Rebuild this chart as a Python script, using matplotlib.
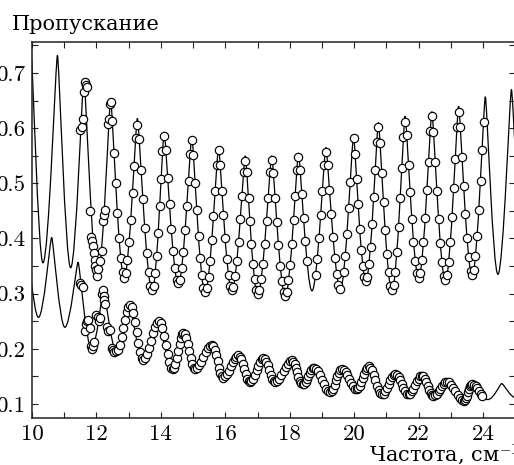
import matplotlib
matplotlib.use("Agg")
import matplotlib.pyplot as plt
from matplotlib.path import Path
from matplotlib.patches import PathPatch

# ---------------------------------------------------------------- data
# Fitted transmission curves: successive extrema (frequency, transmission)
upper_fit_x = [9.97, 10.34, 10.79, 11.20, 11.61, 12.04, 12.44, 12.86, 13.27, 13.73,
               14.10, 14.54, 14.96, 15.37, 15.79, 16.20, 16.62, 17.00, 17.44, 17.86,
               18.27, 18.69, 19.12, 19.57, 19.98, 20.36, 20.75, 21.17, 21.58, 22.00,
               22.41, 22.83, 23.24, 23.66, 24.07, 24.46, 24.88, 25.30]
upper_fit_y = [0.740, 0.356, 0.732, 0.347, 0.690, 0.332, 0.652, 0.329, 0.618, 0.305,
               0.593, 0.317, 0.585, 0.302, 0.565, 0.305, 0.550, 0.298, 0.550, 0.295,
               0.555, 0.305, 0.565, 0.308, 0.586, 0.322, 0.610, 0.305, 0.622, 0.328,
               0.630, 0.323, 0.640, 0.332, 0.657, 0.335, 0.670, 0.340]

lower_fit_x = [9.80, 10.20, 10.61, 11.02, 11.43, 11.85, 12.22, 12.62, 13.04, 13.45,
               13.94, 14.37, 14.70, 15.06, 15.58, 15.94, 16.40, 16.76, 17.18, 17.55,
               18.06, 18.40, 18.75, 19.25, 19.62, 20.08, 20.45, 20.86, 21.27, 21.69,
               22.10, 22.46, 22.88, 23.40, 23.66, 24.15, 24.58, 25.05]
lower_fit_y = [0.410, 0.257, 0.402, 0.239, 0.357, 0.200, 0.308, 0.195, 0.279, 0.180,
               0.250, 0.163, 0.228, 0.164, 0.207, 0.148, 0.188, 0.139, 0.183, 0.140,
               0.179, 0.136, 0.166, 0.122, 0.163, 0.127, 0.168, 0.118, 0.154, 0.118,
               0.151, 0.115, 0.140, 0.106, 0.136, 0.108, 0.137, 0.110]

# Measured points (frequency, transmission)
upper_points = [
    (11.49, .596), (11.54, .602), (11.59, .616),
    (11.62, .666), (11.65, .684), (11.69, .679), (11.72, .675), (11.80, .449),
    (11.82, .402), (11.85, .396), (11.88, .387), (11.91, .373), (11.94, .361),
    (11.97, .350), (12.00, .343), (12.02, .332),
    (12.06, .345), (12.10, .360), (12.16, .378), (12.19, .432), (12.23, .442),
    (12.26, .452), (12.36, .608), (12.39, .616), (12.42, .643),
    (12.45, .648), (12.49, .613), (12.55, .555), (12.60, .500), (12.65, .447),
    (12.70, .400), (12.76, .365), (12.81, .339),
    (12.86, .329), (12.91, .338), (12.96, .361), (13.01, .393), (13.07, .434),
    (13.12, .482), (13.17, .531), (13.22, .583),
    (13.27, .606), (13.33, .580), (13.39, .524), (13.44, .471), (13.50, .419),
    (13.56, .374), (13.62, .339), (13.67, .314),
    (13.73, .307), (13.78, .314), (13.82, .337), (13.87, .368), (13.92, .410),
    (13.96, .458), (14.01, .507), (14.05, .558),
    (14.10, .585), (14.16, .560), (14.21, .510), (14.27, .463), (14.32, .418),
    (14.38, .378), (14.43, .347), (14.49, .325),
    (14.54, .320), (14.59, .325), (14.65, .346), (14.70, .376), (14.75, .415),
    (14.80, .459), (14.86, .505), (14.91, .553),
    (14.96, .578), (15.01, .551), (15.06, .500), (15.11, .452), (15.17, .405),
    (15.22, .364), (15.27, .333), (15.32, .310),
    (15.37, .303), (15.42, .310), (15.48, .331), (15.53, .360), (15.58, .398),
    (15.63, .441), (15.69, .486), (15.74, .533),
    (15.79, .560), (15.84, .534), (15.89, .487), (15.94, .443), (16.00, .400),
    (16.05, .362), (16.10, .334), (16.15, .313),
    (16.20, .306), (16.25, .312), (16.31, .332), (16.36, .359), (16.41, .394),
    (16.46, .435), (16.52, .477), (16.57, .521),
    (16.62, .540), (16.67, .520), (16.72, .474), (16.76, .432), (16.81, .390),
    (16.86, .353), (16.91, .326), (16.95, .306),
    (17.00, .299), (17.06, .306), (17.11, .326), (17.17, .353), (17.22, .390),
    (17.28, .432), (17.33, .474), (17.39, .520),
    (17.44, .543), (17.49, .519), (17.55, .474), (17.60, .430), (17.65, .388),
    (17.70, .351), (17.76, .323), (17.81, .303),
    (17.86, .296), (17.91, .303), (17.96, .324), (18.01, .352), (18.07, .390),
    (18.12, .433), (18.17, .477), (18.22, .524),
    (18.27, .548), (18.32, .525), (18.38, .480), (18.43, .438), (18.48, .396),
    (18.53, .360),
    (18.80, .334), (18.85, .362), (18.91, .400), (18.96, .443), (19.01, .487),
    (19.07, .534),
    (19.12, .557), (19.18, .534), (19.23, .488), (19.29, .444), (19.35, .402),
    (19.40, .365), (19.46, .336), (19.51, .316),
    (19.57, .309), (19.67, .339), (19.72, .369), (19.78, .409), (19.83, .455),
    (19.88, .503), (19.99, .582),
    (20.03, .554), (20.08, .507), (20.12, .462), (20.17, .418), (20.22, .380),
    (20.27, .351), (20.31, .330),
    (20.36, .323), (20.41, .331), (20.46, .354), (20.51, .385), (20.56, .427),
    (20.60, .475), (20.65, .524), (20.70, .575),
    (20.75, .603), (20.80, .573), (20.86, .519), (20.91, .467), (20.96, .416),
    (21.01, .372), (21.07, .339), (21.12, .314),
    (21.17, .306), (21.22, .315), (21.27, .340), (21.32, .375), (21.38, .421),
    (21.43, .473), (21.48, .527), (21.53, .584),
    (21.58, .612), (21.63, .587), (21.69, .534), (21.74, .484), (21.79, .435),
    (21.84, .393), (21.90, .360), (21.95, .337),
    (22.00, .329), (22.05, .337), (22.10, .361), (22.15, .394), (22.21, .438),
    (22.26, .488), (22.31, .539), (22.36, .594),
    (22.41, .622), (22.46, .593), (22.52, .538), (22.57, .486), (22.62, .435),
    (22.67, .391), (22.73, .357), (22.78, .332),
    (22.83, .324), (22.88, .333), (22.93, .358), (22.98, .393), (23.04, .439),
    (23.09, .491), (23.14, .545), (23.19, .602),
    (23.24, .630), (23.29, .603), (23.35, .548), (23.40, .495), (23.45, .444),
    (23.50, .400), (23.56, .366), (23.61, .341),
    (23.66, .333), (23.71, .342), (23.76, .368), (23.81, .404), (23.87, .451),
    (23.92, .504), (23.97, .560), (24.02, .612),
]

lower_points = [
    (11.49, .319), (11.52, .316), (11.57, .312), (11.65, .233), (11.68, .245),
    (11.72, .250), (11.75, .252), (11.80, .238), (11.82, .205), (11.85, .200),
    (11.88, .206), (11.92, .212), (12.00, .262), (12.04, .258), (12.08, .250),
    (12.11, .256), (12.16, .300), (12.19, .306), (12.22, .296), (12.25, .288),
    (12.28, .282), (12.33, .240), (12.37, .233), (12.41, .235), (12.47, .202),
    (12.52, .198), (12.56, .195), (12.60, .196),
    (12.67, .198), (12.73, .207), (12.78, .221), (12.83, .237), (12.88, .253),
    (12.94, .267), (12.99, .276),
    (13.04, .279), (13.09, .275), (13.14, .265), (13.19, .248), (13.25, .230),
    (13.30, .211), (13.35, .194), (13.40, .184),
    (13.45, .180), (13.51, .183), (13.57, .190), (13.63, .202), (13.70, .215),
    (13.76, .228), (13.82, .240), (13.88, .247),
    (13.94, .250), (13.99, .247), (14.05, .237), (14.10, .223), (14.16, .207),
    (14.21, .190), (14.26, .176), (14.32, .166),
    (14.37, .163), (14.41, .165), (14.45, .172), (14.49, .183), (14.54, .196),
    (14.58, .208), (14.62, .219), (14.66, .226),
    (14.70, .228), (14.75, .226), (14.79, .219), (14.84, .208), (14.88, .196),
    (14.93, .184), (14.97, .173), (15.02, .166),
    (15.06, .164), (15.13, .166), (15.19, .170), (15.26, .177), (15.32, .186),
    (15.39, .194), (15.45, .201), (15.52, .205),
    (15.58, .207), (15.63, .205), (15.67, .198), (15.72, .189), (15.76, .178),
    (15.81, .166), (15.85, .157), (15.90, .150),
    (15.94, .148), (16.00, .150), (16.06, .154), (16.11, .160), (16.17, .168),
    (16.23, .176), (16.29, .182), (16.34, .186),
    (16.40, .188), (16.45, .186), (16.49, .181), (16.54, .173), (16.58, .164),
    (16.63, .154), (16.67, .146), (16.72, .141),
    (16.76, .139), (16.81, .141), (16.87, .145), (16.92, .153), (16.97, .161),
    (17.02, .169), (17.08, .177), (17.13, .181),
    (17.18, .183), (17.23, .181), (17.27, .177), (17.32, .170), (17.37, .162),
    (17.41, .153), (17.46, .146), (17.50, .142),
    (17.55, .140), (17.61, .141), (17.68, .146), (17.74, .152), (17.81, .160),
    (17.87, .167), (17.93, .173), (18.00, .178),
    (18.06, .179), (18.10, .177), (18.15, .173), (18.19, .166), (18.23, .158),
    (18.27, .149), (18.32, .142), (18.36, .138),
    (18.40, .136), (18.44, .137), (18.49, .140), (18.53, .145), (18.58, .151),
    (18.62, .157), (18.66, .162), (18.71, .165),
    (18.75, .166), (18.81, .164), (18.88, .160), (18.94, .152), (19.00, .144),
    (19.06, .136), (19.13, .128), (19.19, .124),
    (19.25, .122), (19.30, .124), (19.34, .128), (19.39, .135), (19.44, .143),
    (19.48, .150), (19.53, .157), (19.57, .161),
    (19.62, .163), (19.68, .162), (19.74, .158), (19.79, .152), (19.85, .145),
    (19.91, .138), (19.97, .132), (20.02, .128),
    (20.08, .127), (20.13, .129), (20.17, .133), (20.22, .140), (20.27, .148),
    (20.31, .155), (20.36, .162), (20.40, .166),
    (20.45, .168), (20.50, .166), (20.55, .161), (20.60, .153), (20.66, .143),
    (20.71, .133), (20.76, .125), (20.81, .120),
    (20.86, .118), (20.91, .119), (20.96, .123), (21.01, .129), (21.07, .136),
    (21.12, .143), (21.17, .149), (21.22, .153),
    (21.27, .154), (21.32, .153), (21.38, .149), (21.43, .143), (21.48, .136),
    (21.53, .129), (21.59, .123), (21.64, .119),
    (21.69, .118), (21.74, .119), (21.79, .123), (21.84, .128), (21.90, .135),
    (21.95, .141), (22.00, .146), (22.05, .150),
    (22.10, .151), (22.15, .150), (22.19, .146), (22.24, .140), (22.28, .133),
    (22.33, .126), (22.37, .120), (22.42, .116),
    (22.46, .115), (22.51, .116), (22.57, .119), (22.62, .123), (22.67, .128),
    (22.72, .132), (22.78, .136), (22.83, .139),
    (22.88, .140), (22.95, .139), (23.01, .135), (23.08, .129), (23.14, .123),
    (23.21, .117), (23.27, .111), (23.34, .107),
    (23.40, .106), (23.43, .107), (23.47, .110), (23.50, .115), (23.53, .121),
    (23.56, .127), (23.60, .132), (23.63, .135),
    (23.66, .136), (23.71, .135), (23.77, .132), (23.82, .129), (23.87, .124),
    (23.92, .119), (23.98, .114),
]

x_major = [10, 12, 14, 16, 18, 20, 22, 24]
x_minor = [11, 13, 15, 17, 19, 21, 23, 25]
y_major = [0.1, 0.2, 0.3, 0.4, 0.5, 0.6, 0.7]
y_minor = [0.15, 0.25, 0.35, 0.45, 0.55, 0.65, 0.75]
x_labels = ["10", "12", "14", "16", "18", "20", "22", "24"]
y_labels = ["0.1", "0.2", "0.3", "0.4", "0.5", "0.6", "0.7"]

# ---------------------------------------------------------------- style
plt.rcParams["mathtext.fontset"] = "cm"
plt.rcParams["axes.unicode_minus"] = False
NUM_FONT = "cmr10"
TXT_FONT = "DejaVu Serif"

W, H = 514, 465
fig = plt.figure(figsize=(W / 100, H / 100), dpi=100)
ax = fig.add_axes([32 / W, (H - 418) / H, (515.3 - 32) / W, (418 - 42) / H])


def extrema_path(xs, ys, peak_handle, trough_handle):
    """Smooth curve through alternating maxima/minima with flat tangents."""
    verts = [(xs[0], ys[0])]
    codes = [Path.MOVETO]
    for i in range(len(xs) - 1):
        x0, y0, x1, y1 = xs[i], ys[i], xs[i + 1], ys[i + 1]
        dx = x1 - x0
        h0 = peak_handle if y0 > y1 else trough_handle
        h1 = peak_handle if y1 > y0 else trough_handle
        verts += [(x0 + h0 * dx, y0), (x1 - h1 * dx, y1), (x1, y1)]
        codes += [Path.CURVE4] * 3
    return Path(verts, codes)


for fx, fy in ((upper_fit_x, upper_fit_y), (lower_fit_x, lower_fit_y)):
    ax.add_patch(PathPatch(extrema_path(fx, fy, 0.12, 0.40), fill=False,
                           edgecolor="black", linewidth=0.9, zorder=2))

for pts in (upper_points, lower_points):
    px, py = zip(*pts)
    ax.plot(px, py, "o", ms=6.0, mfc="white", mec="black", mew=0.85,
            linestyle="none", zorder=3)

ax.set_xlim(10, 25)
ax.set_ylim(0.0746, 0.7562)
ax.set_xticks(x_major)
ax.set_xticklabels(x_labels)
ax.set_xticks(x_minor, minor=True)
ax.set_yticks(y_major)
ax.set_yticklabels(y_labels)
ax.set_yticks(y_minor, minor=True)
ax.tick_params(which="both", direction="in", top=True, right=True,
               length=4.5, width=0.8, labelsize=16.5, color="#222222")
ax.tick_params(axis="x", pad=5)
ax.tick_params(axis="y", pad=5)
for lab in ax.get_xticklabels() + ax.get_yticklabels():
    lab.set_fontfamily(NUM_FONT)
for sp in ax.spines.values():
    sp.set_linewidth(1.1)
    sp.set_color("#222222")

fig.text(12 / W, 1 - 30 / H, "Пропускание", ha="left", va="baseline",
         fontsize=15, fontfamily=TXT_FONT)
fig.text(519 / W, 1 - 462 / H, "Частота, см$^{-1}$", ha="right",
         va="baseline", fontsize=15, fontfamily=TXT_FONT)

fig.savefig("out.png", dpi=100)
